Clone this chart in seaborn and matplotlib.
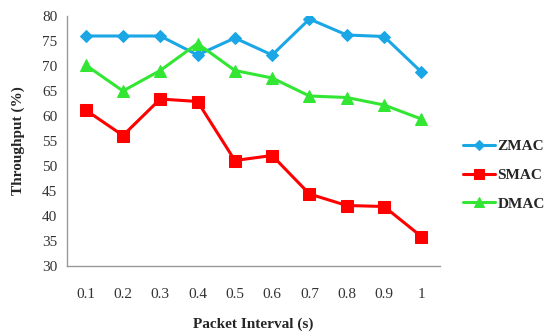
import matplotlib
matplotlib.use("Agg")
import matplotlib.pyplot as plt
import seaborn as sns
import pandas as pd

intervals = ["0.1", "0.2", "0.3", "0.4", "0.5", "0.6", "0.7", "0.8", "0.9", "1"]
zmac = [76.0, 76.0, 76.0, 72.2, 75.6, 72.2, 79.4, 76.2, 75.9, 68.8]
smac = [61.2, 56.1, 63.4, 62.9, 51.1, 52.1, 44.4, 42.1, 41.9, 35.9]
dmac = [70.2, 65.0, 69.1, 74.5, 69.1, 67.6, 64.0, 63.7, 62.2, 59.4]

series = {"ZMAC": zmac, "SMAC": smac, "DMAC": dmac}
styles = {
    "ZMAC": dict(color="#1BA6E6", marker="D", markersize=6),
    "SMAC": dict(color="#FF0000", marker="s", markersize=9),
    "DMAC": dict(color="#33E633", marker="^", markersize=9),
}

rows = []
for name, vals in series.items():
    for i, v in enumerate(vals):
        rows.append({"pos": i, "Interval": intervals[i], "Throughput": v, "Protocol": name})
df = pd.DataFrame(rows)

sns.set_style("white")
plt.rcParams["font.family"] = ["Liberation Serif", "DejaVu Serif"]

fig = plt.figure(figsize=(5.47, 3.36), dpi=100)
ax = fig.add_axes([67 / 547, 1 - 266 / 336, (440 - 67) / 547, (266 - 16) / 336])

for name in series:
    st = styles[name]
    sns.lineplot(data=df[df["Protocol"] == name], x="pos", y="Throughput", ax=ax,
                 color=st["color"], marker=st["marker"], markersize=st["markersize"],
                 markeredgecolor=st["color"], linewidth=2.2, label=name)

ax.set_xlim(-0.5, len(intervals) - 0.5)
ax.set_ylim(30, 80)
ax.set_yticks(range(30, 81, 5))
ax.set_xticks(range(len(intervals)))
ax.set_xticklabels(intervals)
ax.tick_params(axis="y", direction="out", length=4, color="#888888", labelsize=11, labelcolor="#333333", pad=3)
ax.tick_params(axis="x", length=0, labelsize=11, labelcolor="#333333", pad=16)

for side in ["top", "right"]:
    ax.spines[side].set_visible(False)
for side in ["left", "bottom"]:
    ax.spines[side].set_color("#999999")
    ax.spines[side].set_linewidth(1.0)

ax.set_xlabel("Packet Interval (s)", fontsize=11, fontweight="bold", labelpad=12)
ax.set_ylabel("Throughput (%)", fontsize=11, fontweight="bold", labelpad=12)

handles, labels = ax.get_legend_handles_labels()
ax.get_legend().remove()
fig.legend(handles, labels, loc="center left", bbox_to_anchor=(463 / 547, 1 - 175 / 336),
           borderaxespad=0, borderpad=0, frameon=False,
           prop={"weight": "bold", "size": 11}, handlelength=2.1, handletextpad=0.15,
           labelspacing=1.0, markerscale=0.8)

fig.savefig("out.png", dpi=100)
